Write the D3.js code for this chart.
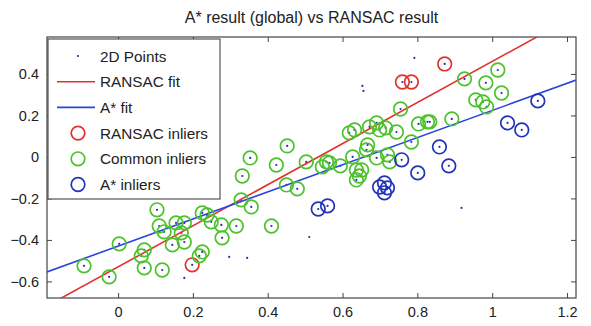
<!DOCTYPE html>
<html>
<head>
<meta charset="utf-8">
<script src="https://cdn.jsdelivr.net/npm/d3@7"></script>
<style>
  body { margin: 0; background: #fff; }
  svg { font-family: "Liberation Sans", Arial, sans-serif; }
</style>
</head>
<body>
<svg id="chart" width="591" height="326"></svg>
<script>
// points circled by RANSAC only
const ransacInliers = [
  [0.873, 0.448], [0.760, 0.361], [0.784, 0.361], [0.198, -0.520]
];
// points circled by A* only
const astarInliers = [
  [1.122, 0.270], [1.041, 0.164], [1.079, 0.130], [0.859, 0.048], [0.884, -0.043],
  [0.801, -0.077], [0.758, -0.014], [0.712, -0.125], [0.699, -0.145], [0.720, -0.149],
  [0.712, -0.173], [0.535, -0.251], [0.560, -0.236]
];
// points circled by both
const commonInliers = [
  [0.926, 0.376], [1.015, 0.419], [0.983, 0.357], [1.025, 0.308], [0.956, 0.275],
  [0.975, 0.265], [0.985, 0.241], [0.892, 0.183], [0.833, 0.169], [0.755, 0.231],
  [0.803, 0.159], [0.827, 0.169], [0.784, 0.072],
  [0.744, 0.120], [0.618, 0.116], [0.632, 0.130], [0.672, 0.145], [0.691, 0.164],
  [0.699, 0.130], [0.715, 0.140], [0.667, 0.058], [0.664, 0.034], [0.691, -0.005],
  [0.720, 0.010], [0.627, 0.000], [0.594, -0.043], [0.637, -0.063], [0.651, -0.063],
  [0.637, -0.111], [0.645, -0.092], [0.726, -0.024], [0.557, -0.024], [0.546, -0.048],
  [0.565, -0.029], [0.503, -0.024],
  [0.452, 0.053], [0.353, -0.005], [0.423, -0.039], [0.332, -0.092], [0.450, -0.135],
  [0.479, -0.154], [0.329, -0.207], [0.356, -0.241], [0.316, -0.333], [0.410, -0.333],
  [0.276, -0.328], [0.278, -0.390],
  [-0.091, -0.525], [-0.024, -0.578], [0.003, -0.419], [0.104, -0.255], [0.070, -0.448],
  [0.062, -0.477], [0.070, -0.535], [0.118, -0.545], [0.110, -0.333], [0.123, -0.361],
  [0.145, -0.424], [0.177, -0.410], [0.155, -0.318], [0.177, -0.318], [0.169, -0.366],
  [0.225, -0.270], [0.238, -0.280], [0.249, -0.313], [0.225, -0.458], [0.217, -0.477]
];
// points nobody kept
const outliers = [
  [0.653, 0.342], [0.656, 0.318], [0.792, 0.477], [0.918, -0.246], [0.511, -0.386],
  [0.297, -0.482], [0.345, -0.487], [0.177, -0.583]
];
// fitted lines: [slope, intercept]
const ransacFit = [0.99, -0.53];
const astarFit = [0.654, -0.43];

const xTicks = [0, 0.2, 0.4, 0.6, 0.8, 1, 1.2];
const yTicks = [-0.6, -0.4, -0.2, 0, 0.2, 0.4];
const legendLabels = ["2D Points", "RANSAC fit", "A* fit", "RANSAC inliers", "Common inliers", "A* inliers"];

const RED = "#e2322e", GREEN = "#4cc22c", BLUE = "#2233b8", LBLUE = "#2b45e0", DOT = "#2a2f9a";

const pLeft = 47, pRight = 576, pTop = 37, pBottom = 298;
const svg = d3.select("#chart");

const x = d3.scaleLinear().domain([-0.19, 1.224]).range([pLeft, pRight]);
const y = d3.scaleLinear().domain([-0.68, 0.578]).range([pBottom, pTop]);

svg.append("defs").append("clipPath").attr("id", "plot")
  .append("rect").attr("x", pLeft).attr("y", pTop)
  .attr("width", pRight - pLeft).attr("height", pBottom - pTop);

// title
svg.append("text")
  .attr("x", (pLeft + pRight) / 2).attr("y", 23)
  .attr("text-anchor", "middle")
  .attr("font-size", 16)
  .attr("fill", "#222")
  .text("A* result (global) vs RANSAC result");

// axes, ticks inward on all four sides
const fmt = d => d === 0 || d === 1 ? String(d) : d3.format(".1f")(d).replace("-", "\u2212");
svg.append("g").attr("transform", `translate(0,${pBottom})`)
  .call(d3.axisBottom(x).tickValues(xTicks).tickSizeInner(-5).tickSizeOuter(0).tickPadding(9).tickFormat(fmt));
svg.append("g").attr("transform", `translate(0,${pTop})`)
  .call(d3.axisTop(x).tickValues(xTicks).tickSizeInner(-5).tickSizeOuter(0).tickFormat(""));
svg.append("g").attr("transform", `translate(${pLeft},0)`)
  .call(d3.axisLeft(y).tickValues(yTicks).tickSizeInner(-5).tickSizeOuter(0).tickPadding(8).tickFormat(fmt));
svg.append("g").attr("transform", `translate(${pRight},0)`)
  .call(d3.axisRight(y).tickValues(yTicks).tickSizeInner(-5).tickSizeOuter(0).tickFormat(""));

svg.selectAll(".domain").remove();
svg.selectAll(".tick line").attr("stroke", "#444");
svg.selectAll(".tick text").attr("font-size", 14.5).attr("fill", "#222")
  .attr("font-family", "'Liberation Sans', Arial, sans-serif");

svg.append("rect")
  .attr("x", pLeft).attr("y", pTop)
  .attr("width", pRight - pLeft).attr("height", pBottom - pTop)
  .attr("fill", "none").attr("stroke", "#444").attr("stroke-width", 1.2);

const plot = svg.append("g").attr("clip-path", "url(#plot)");
const allPoints = [].concat(ransacInliers, astarInliers, commonInliers, outliers);

// 2D points
plot.append("g").selectAll("circle").data(allPoints).join("circle")
  .attr("cx", d => x(d[0])).attr("cy", d => y(d[1]))
  .attr("r", 1.1).attr("fill", DOT);

// fitted lines
const fitLine = (f, color) => {
  const xs = x.domain();
  plot.append("line")
    .attr("x1", x(xs[0])).attr("y1", y(f[0] * xs[0] + f[1]))
    .attr("x2", x(xs[1])).attr("y2", y(f[0] * xs[1] + f[1]))
    .attr("stroke", color).attr("stroke-width", 1.6);
};
fitLine(ransacFit, RED);
fitLine(astarFit, LBLUE);

const rings = (data, color) => {
  plot.append("g").selectAll("circle").data(data).join("circle")
    .attr("cx", d => x(d[0])).attr("cy", d => y(d[1]))
    .attr("r", 6.8).attr("fill", "none")
    .attr("stroke", color).attr("stroke-width", 1.7);
};
rings(ransacInliers, RED);
rings(commonInliers, GREEN);
rings(astarInliers, BLUE);

// legend
const lg = svg.append("g");
lg.append("rect").attr("x", 48).attr("y", 39).attr("width", 172).attr("height", 160)
  .attr("fill", "#fff").attr("stroke", "#444").attr("stroke-width", 1.1);
const rowY = i => 56 + i * 25.7;
legendLabels.forEach((t, i) => {
  lg.append("text").attr("x", 100).attr("y", rowY(i) + 5.5)
    .attr("font-size", 15.3).attr("fill", "#222").text(t);
});
lg.append("circle").attr("cx", 78).attr("cy", rowY(0)).attr("r", 1.1).attr("fill", DOT);
lg.append("line").attr("x1", 57).attr("x2", 95).attr("y1", rowY(1)).attr("y2", rowY(1))
  .attr("stroke", RED).attr("stroke-width", 1.6);
lg.append("line").attr("x1", 57).attr("x2", 95).attr("y1", rowY(2)).attr("y2", rowY(2))
  .attr("stroke", LBLUE).attr("stroke-width", 1.6);
[RED, GREEN, BLUE].forEach((c, k) => {
  lg.append("circle").attr("cx", 78).attr("cy", rowY(3 + k)).attr("r", 6.8)
    .attr("fill", "none").attr("stroke", c).attr("stroke-width", 1.7);
});
</script>
</body>
</html>
